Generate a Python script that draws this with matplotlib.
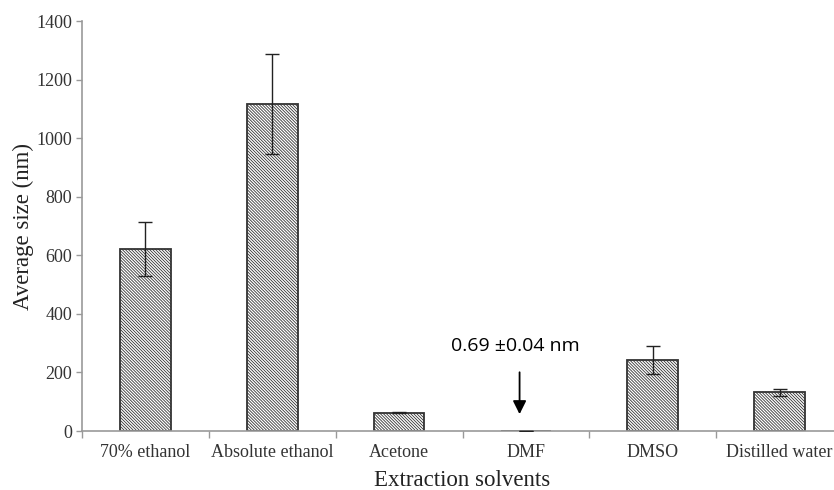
import matplotlib
matplotlib.use("Agg")
import matplotlib.pyplot as plt
import numpy as np

categories = ["70% ethanol", "Absolute ethanol", "Acetone", "DMF", "DMSO", "Distilled water"]
values = [620, 1117, 63, 0.69, 242, 132]
errors = [92, 172, 3, 0.04, 47, 11]
yticks = [0, 200, 400, 600, 800, 1000, 1200, 1400]

plt.rcParams['hatch.linewidth'] = 0.6
plt.rcParams['hatch.color'] = '#505050'

fig = plt.figure(figsize=(8.34, 4.90), dpi=100)
ax = fig.add_axes([82/834, 59/490, 761/834, 410/490])

x = np.arange(len(categories))
ax.bar(x, values, width=0.4, color='white', edgecolor='#333333', linewidth=1.3,
       hatch='\\' * 11, zorder=2)
ax.errorbar(x, values, yerr=errors, fmt='none', ecolor='#222222', elinewidth=1.0,
            capsize=5, capthick=1.0, zorder=3)

ax.set_xlim(-0.5, len(categories) - 0.5)
ax.set_ylim(0, 1400)
ax.set_yticks(yticks)
ax.set_yticklabels([str(t) for t in yticks])

ax.set_xticks(x)
ax.set_xticklabels(categories)
ax.set_xticks(np.arange(len(categories) + 1) - 0.5, minor=True)
ax.tick_params(axis='x', which='major', length=0, pad=9)
ax.tick_params(axis='x', which='minor', length=5, color='#999999', width=1)
ax.tick_params(axis='y', length=4, color='#999999', width=1, pad=3)

for lab in ax.get_xticklabels() + ax.get_yticklabels():
    lab.set_fontfamily('Liberation Serif')
    lab.set_fontsize(13)
    lab.set_color('#333333')

for s in ['top', 'right']:
    ax.spines[s].set_visible(False)
for s in ['left', 'bottom']:
    ax.spines[s].set_color('#999999')
    ax.spines[s].set_linewidth(1.2)

ax.set_xlabel("Extraction solvents", fontfamily='Liberation Serif', fontsize=16.5, color='#222222')
ax.xaxis.set_label_coords(0.5, -49/410)
ax.xaxis.label.set_va('center')
ax.set_ylabel("Average size (nm)", fontfamily='Liberation Serif', fontsize=16.5, color='#222222')
ax.yaxis.set_label_coords(-59/761, 0.5)
ax.yaxis.label.set_va('center')

ax.annotate("", xy=(2.95, 48), xytext=(2.95, 210),
            arrowprops=dict(arrowstyle='-|>', color='black', lw=1.3, mutation_scale=20))
ax.text(2.92, 290, "0.69 ±0.04 nm", ha='center', va='center',
        fontfamily='Open Sans', fontsize=14, color='black')

fig.savefig("out.png", dpi=100)
